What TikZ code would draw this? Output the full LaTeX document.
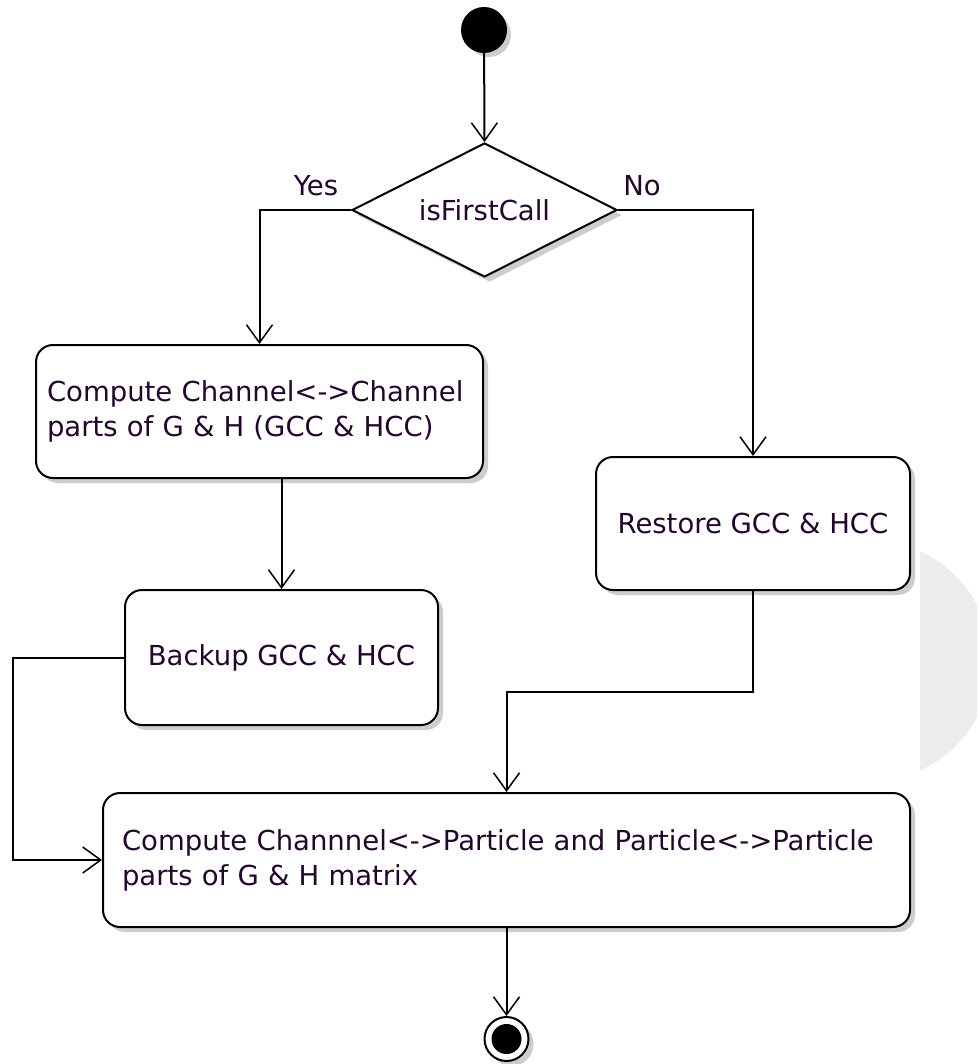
\documentclass[tikz,border=0pt]{standalone}
\usepackage{fontspec}
\setmainfont{DejaVu Sans}
\usetikzlibrary{arrows.meta,shapes.geometric,shadows}

\definecolor{inkcol}{RGB}{34,6,44}
\definecolor{shadecol}{RGB}{205,205,205}
\definecolor{blobcol}{RGB}{236,236,236}

\tikzset{
  base/.style={line width=2pt, draw=black, fill=white,
    drop shadow={shadow xshift=5pt, shadow yshift=-5pt, fill=shadecol, opacity=1}},
  action/.style={base, rectangle, rounded corners=17pt, inner ysep=0pt,
    text=inkcol, font=\fontsize{27.5}{35}\selectfont},
  decision/.style={base, diamond, inner sep=0pt, shape aspect=2,
    text=inkcol, font=\fontsize{27.5}{35}\selectfont},
  flow/.style={line width=2pt, -{Straight Barb[length=18pt,width=26pt,line width=1.5pt]}},
  guard/.style={text=inkcol, font=\fontsize{27.5}{35}\selectfont, inner sep=0pt},
}

\begin{document}
\begin{tikzpicture}[x=1pt,y=-1pt]
  \useasboundingbox (0,0) rectangle (977,1064);

  % pale disc at the right margin
  \begin{scope}
    \clip (920,0) rectangle (977,1064);
    \fill[blobcol] (871,661) circle (120);
  \end{scope}

  % initial and final states
  \node[base, circle, fill=black, minimum size=44pt, inner sep=0pt] (start) at (484,30) {};

  % decision
  \node[decision, minimum width=265pt, minimum height=134pt] (dec) at (484.5,210) {isFirstCall};
  \node[guard] (yes) at (316,186) {Yes};
  \node[guard] (no) at (642,186) {No};

  % actions
  \node[action, minimum width=447pt, minimum height=133pt, text width=425pt,
        inner xsep=11pt, align=left] (compcc) at (259.5,411.5)
        {Compute Channel<->Channel\\parts of G \& H (GCC \& HCC)};
  \node[action, minimum width=313pt, minimum height=135pt, align=center]
        (backup) at (281.5,657.5) {Backup GCC \& HCC};
  \node[action, minimum width=314pt, minimum height=133pt, align=center]
        (restore) at (753,523.5) {Restore GCC \& HCC};
  \node[action, minimum width=807pt, minimum height=134pt, text width=769pt,
        inner xsep=19pt, align=left] (comppp) at (506.5,860)
        {Compute Channnel<->Particle and Particle<->Particle\\parts of G \& H matrix};

  \node[base, circle, minimum size=44pt, inner sep=0pt] (stop) at (506.5,1039) {};
  \node[circle, fill=black, minimum size=30pt, inner sep=0pt] (stopdot) at (stop) {};

  % bend points
  \coordinate (j1) at (13,657.5);
  \coordinate (j2) at (506.5,692);

  % connectors
  \draw[flow] (start) -- (dec.north);
  \draw[flow] (dec.west) -| (compcc.north);
  \draw[flow] (dec.east) -| (restore.north);
  \draw[flow] (compcc.south -| backup.north) -- (backup.north);
  \draw[flow] (backup.west) -- (j1) |- (comppp.west);
  \draw[flow] (restore.south) |- (j2) -- (comppp.north);
  \draw[flow] (comppp.south) -- (stop.north);
\end{tikzpicture}
\end{document}
